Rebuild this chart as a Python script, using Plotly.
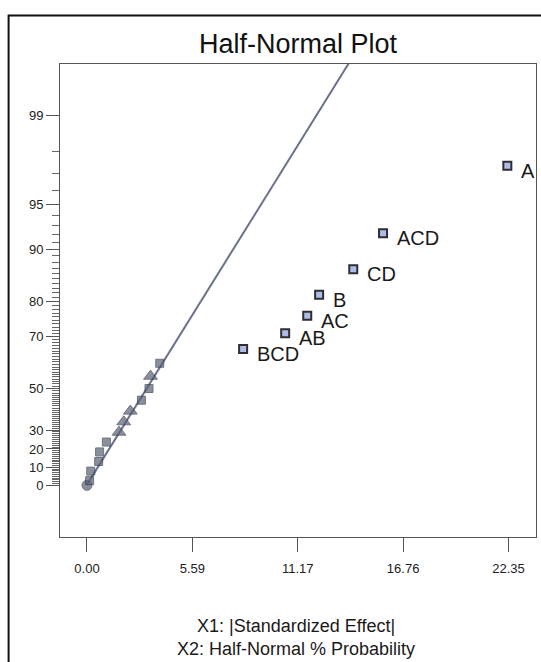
import plotly.graph_objects as go
from statistics import NormalDist

# Half-normal plot of standardized effects
# Unlabelled (small) effects
small_effect = [0.00, 0.14, 0.20, 0.62, 0.67, 1.03, 1.70, 1.95, 2.30, 2.89, 3.29, 3.37, 3.86]
small_prob = [0.0, 2.6, 7.9, 13.2, 18.4, 23.7, 28.9, 34.2, 39.5, 44.7, 50.0, 55.3, 60.5]
small_symbol = ["circle", "square", "square", "square", "square", "square",
                "triangle-up", "triangle-up", "triangle-up", "square", "square",
                "triangle-up", "square"]

# Labelled (significant) effects
terms = ["BCD", "AB", "AC", "B", "CD", "ACD", "A"]
term_effect = [8.28, 10.51, 11.68, 12.31, 14.12, 15.70, 22.29]
term_prob = [65.8, 71.1, 76.3, 81.6, 86.8, 92.1, 97.4]

# Reference line: z = intercept + slope * |effect|
line_intercept = 0.005
line_slope = 0.2115
line_x_end = 15.0

# Axis ticks
x_tickvals = [0.0, 5.5875, 11.175, 16.7625, 22.35]
x_ticktext = ["0.00", "5.59", "11.17", "16.76", "22.35"]
y_major = [0, 10, 20, 30, 50, 70, 80, 90, 95, 99]
y_minor = [p for p in range(1, 95) if p not in y_major] + [96, 97, 98]

nd = NormalDist()


def hn(p):
    """Half-normal quantile for a percentage probability."""
    return nd.inv_cdf(0.5 + p / 200.0)


FONT = "Liberation Sans, Arial, sans-serif"
DARK_FILL = "#596176"
DARK_EDGE = "#353a48"

fig = go.Figure()

# fitted line
fig.add_trace(go.Scatter(
    x=[0.0, line_x_end],
    y=[line_intercept, line_intercept + line_slope * line_x_end],
    mode="lines",
    line=dict(color="#6a728c", width=2),
    hoverinfo="skip",
))

# small effects
fig.add_trace(go.Scatter(
    x=small_effect,
    y=[hn(p) for p in small_prob],
    mode="markers",
    marker=dict(
        symbol=small_symbol,
        size=[10 if s == "circle" else (12 if s == "triangle-up" else 8) for s in small_symbol],
        color=DARK_FILL,
        line=dict(color=DARK_EDGE, width=1),
    ),
))

# labelled effects
fig.add_trace(go.Scatter(
    x=term_effect,
    y=[hn(p) for p in term_prob],
    mode="markers",
    marker=dict(symbol="square", size=8, color="#aebde8",
                line=dict(color="#2e2e33", width=2)),
))

for t, e, p in zip(terms, term_effect, term_prob):
    fig.add_annotation(
        x=e, y=hn(p), xref="x", yref="y", text=t, showarrow=False,
        xanchor="left", yanchor="middle", xshift=12, yshift=-5,
        font=dict(family=FONT, size=20, color="#1a1a1a"),
    )

# axis title (two lines)
fig.add_annotation(x=0.496, y=(537 - 637) / 473, xref="paper", yref="paper",
                   text="X1: |Standardized Effect|<br>X2: Half-Normal % Probability",
                   showarrow=False, xanchor="center", yanchor="middle",
                   align="center",
                   font=dict(family=FONT, size=18, color="#1a1a1a"))

# outer frame (left and top edges)
x_l = (8.6 - 60) / 476
x_r = (560 - 60) / 476
y_t = (537 - 15.5) / 473
y_b = (537 - 680) / 473
fig.add_shape(type="path", xref="paper", yref="paper",
              path=f"M {x_l} {y_b} L {x_l} {y_t} L {x_r} {y_t}",
              line=dict(color="#111111", width=2))

fig.update_layout(
    width=541, height=662,
    margin=dict(l=60, r=5, t=64, b=125),
    paper_bgcolor="white", plot_bgcolor="white",
    showlegend=False,
    font=dict(family=FONT, color="#1a1a1a"),
    title=dict(text="Half-Normal Plot", x=0.5, xref="paper", xanchor="center",
               y=1 - 44 / 662, yanchor="middle",
               font=dict(family=FONT, size=27, color="#111111")),
    xaxis=dict(
        range=[-1.43, 23.81], showgrid=False, zeroline=False,
        showline=True, mirror=True, linecolor="#555555", linewidth=1,
        tickmode="array", tickvals=x_tickvals, ticktext=x_ticktext,
        ticks="outside", ticklen=14, tickcolor="#555555", tickwidth=1,
        tickfont=dict(family=FONT, size=13, color="#222222"),
        ticklabelstandoff=5,
    ),
    yaxis=dict(
        range=[-0.360, 2.936], showgrid=False, zeroline=False,
        showline=True, mirror=True, linecolor="#555555", linewidth=1,
        tickmode="array", tickvals=[hn(p) for p in y_major],
        ticktext=[str(p) for p in y_major],
        ticks="outside", ticklen=13, tickcolor="#555555", tickwidth=1,
        tickfont=dict(family=FONT, size=13, color="#222222"),
        minor=dict(tickmode="array", tickvals=[hn(p) for p in y_minor],
                   ticks="outside", ticklen=7, tickcolor="#666666",
                   tickwidth=1, showgrid=False),
    ),
)

fig.write_html("out.html")
